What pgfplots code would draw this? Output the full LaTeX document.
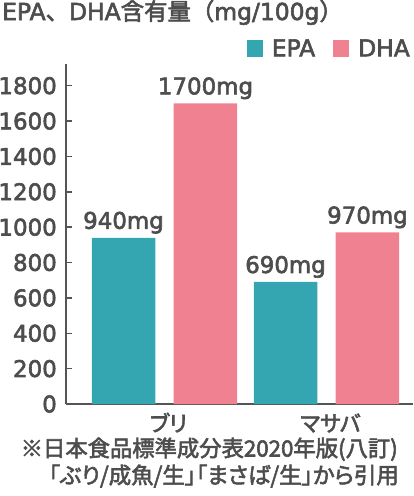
\documentclass[border=0pt]{standalone}
\usepackage{pgfplots}
\pgfplotsset{compat=1.18}
\usepackage{fontspec}
\setmainfont[FakeBold=2.5]{Noto Sans CJK JP}
\newfontfamily\jp[FakeBold=2.5]{Noto Sans CJK JP}
\newfontfamily\jpp[RawFeature=+palt,FakeBold=2.5]{Noto Sans CJK JP}
\newfontfamily\lat[FakeBold=2.5]{DejaVu Sans}
\definecolor{epa}{RGB}{51,166,178}
\definecolor{dha}{RGB}{239,129,145}
\definecolor{txt}{RGB}{77,77,77}
\definecolor{axisc}{RGB}{85,85,85}
\begin{document}
\begin{tikzpicture}
\useasboundingbox (0bp,0bp) rectangle (414bp,-496bp);
\begin{axis}[
  at={(66bp,-404bp)}, anchor=south west,
  x=162bp, y=0.17685bp,
  xmin=-0.608, xmax=1.534, ymin=0, ymax=1922,
  axis x line*=bottom, axis y line*=left,
  axis line style={draw=axisc, line width=2bp, -},
  ytick={0,200,...,1800},
  xtick={0,1}, xticklabels={ブリ,マサバ},
  xtick style={draw=none},
  ytick style={draw=axisc, line width=1.5bp},
  tick align=inside, major tick length=6bp,
  /pgf/number format/assume math mode=true,
  /pgf/number format/1000 sep={},
  yticklabel style={font=\lat\fontsize{23}{23}\selectfont, text=txt, inner sep=0pt, xshift=-9bp},
  xticklabel style={font=\jpp\fontsize{22}{22}\selectfont, text=txt, anchor=base, yshift=-21.5bp, xshift=4bp},
  ybar, bar width=0.392,
  point meta=explicit symbolic,
  nodes near coords,
  nodes near coords style={font=\lat\fontsize{23}{23}\selectfont, text=txt, anchor=base, yshift=9bp},
  legend columns=2,
  legend image code/.code={\fill[#1] (0bp,-8.5bp) rectangle (16bp,8.5bp);},
  legend style={draw=none, fill=none, at={(1,1)}, anchor=south east, yshift=2bp, xshift=2bp,
    font=\lat\fontsize{23.5}{23.5}\selectfont, text=txt,
    /tikz/every odd column/.append style={column sep=7bp},
    /tikz/every even column/.append style={column sep=16bp}},
  clip=false,
]
\addplot[fill=epa, draw=none, bar shift=-0.253] coordinates {(0,940)[940mg] (1,690)[690mg]};
\addplot[fill=dha, draw=none, bar shift=0.253] coordinates {(0,1700)[1700mg] (1,970)[970mg]};
\legend{EPA,DHA}
\end{axis}
\node[anchor=base west, inner sep=0pt, text=txt, font=\fontsize{23.5}{23.5}\selectfont] at (2bp,-20bp) {\lat EPA\jp 、\lat DHA\jp 含有量（\lat mg/100g\jp ）};
\node[anchor=base east, inner sep=0pt, text=txt, font=\jp\fontsize{22.4}{22.4}\selectfont] at (398bp,-456.5bp) {※日本食品標準成分表2020年版(八訂)};
\node[anchor=base east, inner sep=0pt, text=txt, font=\jpp\fontsize{22.5}{22.5}\selectfont] at (399bp,-483.5bp) {「ぶり/成魚/生」「まさば/生」から引用};
\end{tikzpicture}
\end{document}
